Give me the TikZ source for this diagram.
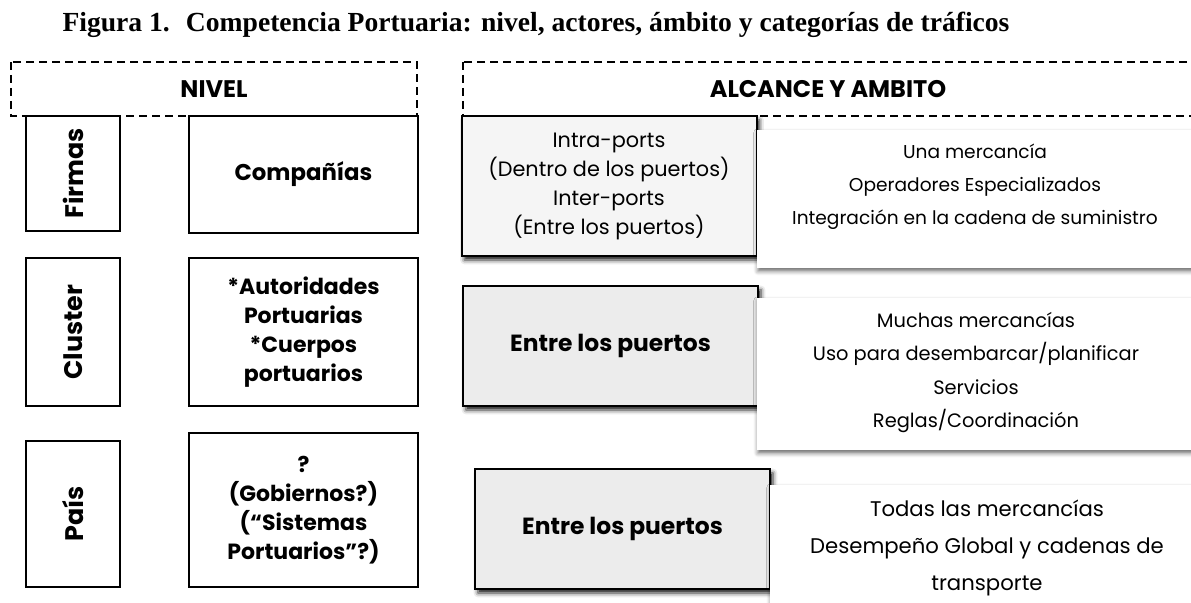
\documentclass[tikz,border=0pt]{standalone}
\usepackage{fontspec}
\setmainfont{Poppins}
\newfontfamily\titlefont{Liberation Serif}
\usetikzlibrary{shadows.blur}

\begin{document}
\begin{tikzpicture}[
  x=0.5pt, y=-0.5pt,
  box/.style={draw, line width=1pt, align=center, inner sep=0pt,
    font=\bfseries\fontsize{11}{14.5}\selectfont},
  side/.style={box, rotate=90, minimum height=47pt,
    font=\bfseries\fontsize{12.7}{14}\selectfont},
  actor/.style={box, minimum width=114.5pt},
  zone/.style={draw, line width=0.75pt, dash pattern=on 4pt off 2.5pt},
  head/.style={font=\bfseries\fontsize{12}{14}\selectfont},
  greybox/.style={box, minimum width=147.5pt, font=\bfseries\fontsize{11.7}{14.5}\selectfont,
    blur shadow={shadow xshift=1.5pt, shadow yshift=-2pt, shadow blur steps=3, shadow opacity=90}},
  panel/.style={fill=white, minimum width=218pt,
    blur shadow={shadow xshift=0.5pt, shadow yshift=-1.5pt, shadow blur steps=5, shadow opacity=60}},
  txt/.style={align=center, font=\fontsize{9.3}{16.5}\selectfont},
]
  \useasboundingbox (0,0) rectangle (1191,603);

  % titulo
  \node[font=\titlefont\bfseries\fontsize{13.8}{16}\selectfont] (title) at (536,25)
    {Figura 1.~ Competencia Portuaria: nivel, actores, ámbito y categorías de tráficos};

  % zonas de cabecera
  \draw[zone] (11,62) rectangle (417,116);
  \node[head] (nivel) at (214,89) {NIVEL};
  \draw[zone] (463,62) rectangle (1200,116);
  \node[head] (alcance) at (828,89) {ALCANCE Y AMBITO};

  % niveles
  \node[side, minimum width=57.5pt] (firmas)  at (73,173.5) {Firmas};
  \node[side, minimum width=74pt]   (cluster) at (73,332)   {Cluster};
  \node[side, minimum width=73pt]   (pais)    at (73,514)   {País};

  % actores
  \node[actor, minimum height=58.5pt, font=\bfseries\fontsize{11.4}{14.5}\selectfont] (comp) at (303.5,174.5) {Compañías};
  \node[actor, minimum height=74pt]   (aut)  at (303.5,332)
    {*Autoridades\\Portuarias\\*Cuerpos\\portuarios};
  \node[actor, minimum height=77pt]   (gob)  at (303.5,510)
    {?\\(Gobiernos?)\\(“Sistemas\\Portuarios”?)};

  % ambito
  \node[greybox, fill=gray!8, minimum height=70pt, font=\fontsize{10.4}{14.5}\selectfont] (intra) at (609,186)
    {Intra-ports\\(Dentro de los puertos)\\Inter-ports\\(Entre los puertos)};
  \node[panel, minimum height=69pt] (una) at (975,199) {};
  \node[txt] (unatxt) at (975,187)
    {Una mercancía\\Operadores Especializados\\Integración en la cadena de suministro};

  \node[greybox, fill=gray!15, minimum height=60pt] (entre1) at (610.5,346) {Entre los puertos};
  \node[panel, minimum height=76pt] (muchas) at (975,374) {};
  \node[txt, font=\fontsize{9.7}{16.7}\selectfont] (muchastxt) at (976,372.5)
    {Muchas mercancías\\Uso para desembarcar/planificar\\Servicios\\Reglas/Coordinación};

  \node[greybox, fill=gray!15, minimum height=60pt] (entre2) at (622.5,529) {Entre los puertos};
  \node[panel, minimum height=70pt, minimum width=217pt] (todas) at (987,555) {};
  \node[txt, font=\fontsize{10.6}{18.5}\selectfont] (todastxt) at (987,548)
    {Todas las mercancías\\Desempeño Global y cadenas de\\transporte};
\end{tikzpicture}
\end{document}
